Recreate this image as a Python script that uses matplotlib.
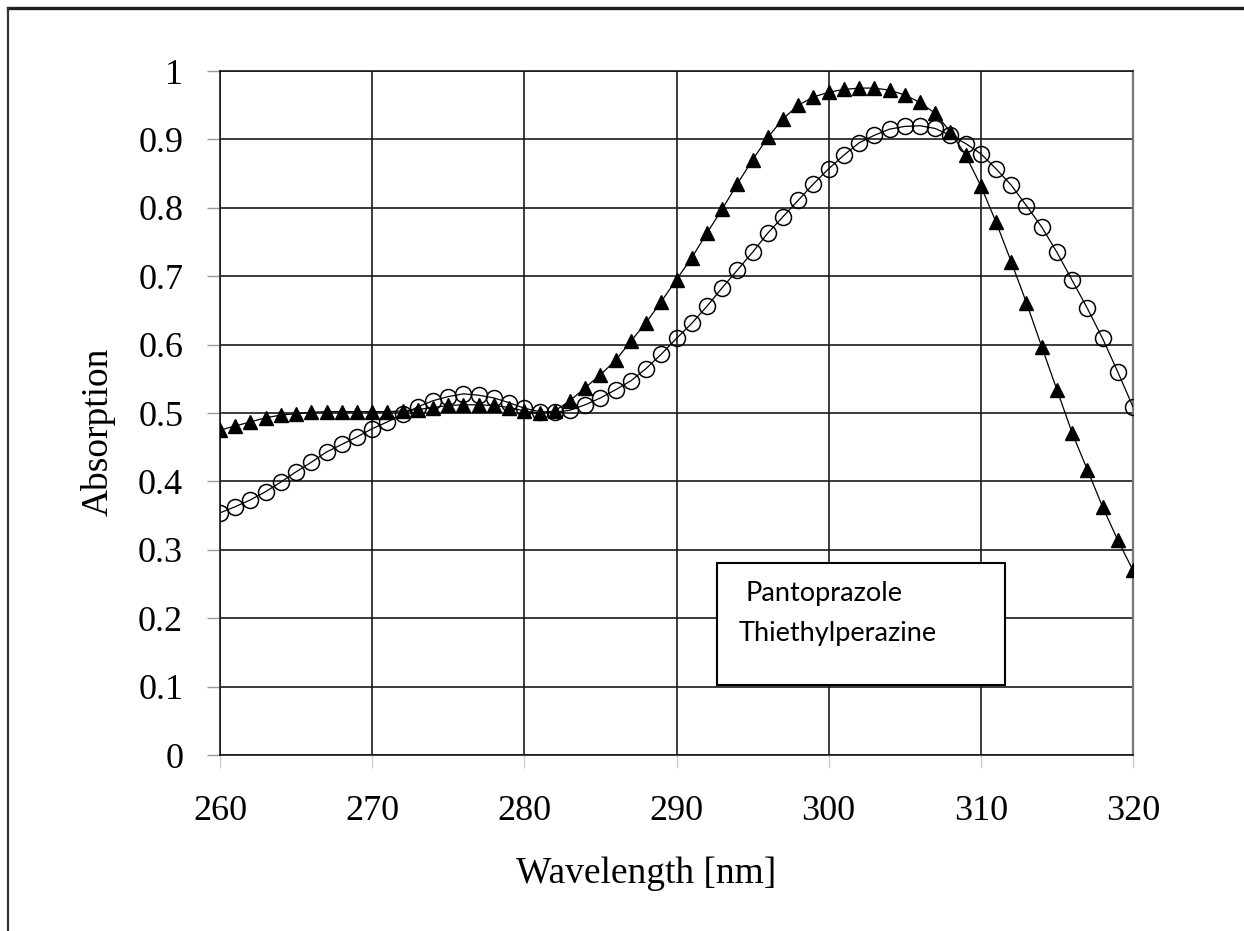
import matplotlib
matplotlib.use("Agg")
import matplotlib.pyplot as plt
from matplotlib.lines import Line2D
from matplotlib.patches import Rectangle

plt.rcParams["font.family"] = ["Liberation Serif", "DejaVu Serif"]

# wavelength grid, 1 nm steps
wavelength = list(range(260, 321))

# filled triangles
absorb_tri = [
    0.475, 0.481, 0.487, 0.493, 0.497, 0.499, 0.501, 0.502, 0.502, 0.502,
    0.502, 0.502, 0.503, 0.505, 0.508, 0.511, 0.512, 0.512, 0.511, 0.508,
    0.503, 0.500, 0.503, 0.518, 0.537, 0.556, 0.577, 0.605, 0.632, 0.663,
    0.695, 0.727, 0.763, 0.798, 0.835, 0.870, 0.903, 0.930, 0.950, 0.962,
    0.969, 0.973, 0.975, 0.975, 0.972, 0.965, 0.954, 0.938, 0.911, 0.877,
    0.832, 0.779, 0.721, 0.661, 0.597, 0.534, 0.471, 0.417, 0.363, 0.314,
    0.270,
]

# open circles
absorb_circ = [
    0.354, 0.363, 0.373, 0.385, 0.399, 0.414, 0.428, 0.443, 0.454, 0.465,
    0.477, 0.487, 0.498, 0.509, 0.518, 0.524, 0.528, 0.526, 0.522, 0.515,
    0.507, 0.502, 0.501, 0.504, 0.512, 0.522, 0.534, 0.547, 0.565, 0.586,
    0.609, 0.631, 0.656, 0.683, 0.709, 0.735, 0.763, 0.787, 0.811, 0.835,
    0.857, 0.877, 0.895, 0.906, 0.915, 0.919, 0.920, 0.916, 0.906, 0.894,
    0.879, 0.857, 0.833, 0.803, 0.772, 0.735, 0.694, 0.653, 0.609, 0.560,
    0.509,
]

legend_names = ["Pantoprazole", "Thiethylperazine"]
x_ticks = [260, 270, 280, 290, 300, 310, 320]
y_ticks = [0, 0.1, 0.2, 0.3, 0.4, 0.5, 0.6, 0.7, 0.8, 0.9, 1]
y_ticklabels = ["0", "0.1", "0.2", "0.3", "0.4", "0.5", "0.6", "0.7", "0.8", "0.9", "1"]

W, H = 1244, 931
fig = plt.figure(figsize=(W / 100, H / 100), dpi=100)
ax = fig.add_axes([220 / W, 1 - 755 / H, 913 / W, 684 / H])

ax.plot(wavelength, absorb_circ, color="black", lw=0.9, marker="o", ms=11.5,
        mfc="none", mec="black", mew=1.1, zorder=3)
ax.plot(wavelength, absorb_tri, color="black", lw=0.9, marker="^", ms=10.5,
        mfc="black", mec="black", zorder=4)

ax.set_xlim(260, 320)
ax.set_ylim(0, 1)
ax.set_xticks(x_ticks)
ax.set_yticks(y_ticks)
ax.set_yticklabels(y_ticklabels)
ax.grid(True, color="#1a1a1a", lw=1.2)
ax.set_axisbelow(True)
for side in ("left", "top", "bottom"):
    ax.spines[side].set_color("#1a1a1a")
    ax.spines[side].set_linewidth(1.2)
ax.spines["right"].set_color("#777777")
ax.spines["right"].set_linewidth(1.6)

ax.tick_params(axis="y", length=9.5, width=1.0, color="#999999", pad=17, labelsize=26)
ax.tick_params(axis="x", length=9.5, width=1.0, color="#cccccc", pad=19, labelsize=26)

ax.set_xlabel("Wavelength [nm]", fontsize=27, va="center")
ax.xaxis.set_label_coords((646 - 220) / 913, (755 - 874) / 684)
ax.set_ylabel("Absorption", fontsize=27, va="center")
ax.yaxis.set_label_coords((98 - 220) / 913, (755 - 432) / 684)

# legend box (text only, as in the source)
fig.patches.append(Rectangle((717 / W, 1 - 685 / H), 288 / W, 122 / H,
                             transform=fig.transFigure, facecolor="white",
                             edgecolor="black", lw=1.5, zorder=10))
fig.text(745 / W, 1 - 593 / H, legend_names[0], family=["Lato", "DejaVu Sans"],
         fontsize=19.5, va="center", ha="left", zorder=11)
fig.text(739 / W, 1 - 634 / H, legend_names[1], family=["Lato", "DejaVu Sans"],
         fontsize=19.5, va="center", ha="left", zorder=11)

# page frame lines (top and left)
fig.add_artist(Line2D([8 / W, 1], [1 - 8 / H, 1 - 8 / H], transform=fig.transFigure,
                      color="#1e1e1e", lw=2.4))
fig.add_artist(Line2D([8 / W, 8 / W], [0, 1 - 8 / H], transform=fig.transFigure,
                      color="#333333", lw=1.6))

fig.savefig("out.png", dpi=100, facecolor="white")
